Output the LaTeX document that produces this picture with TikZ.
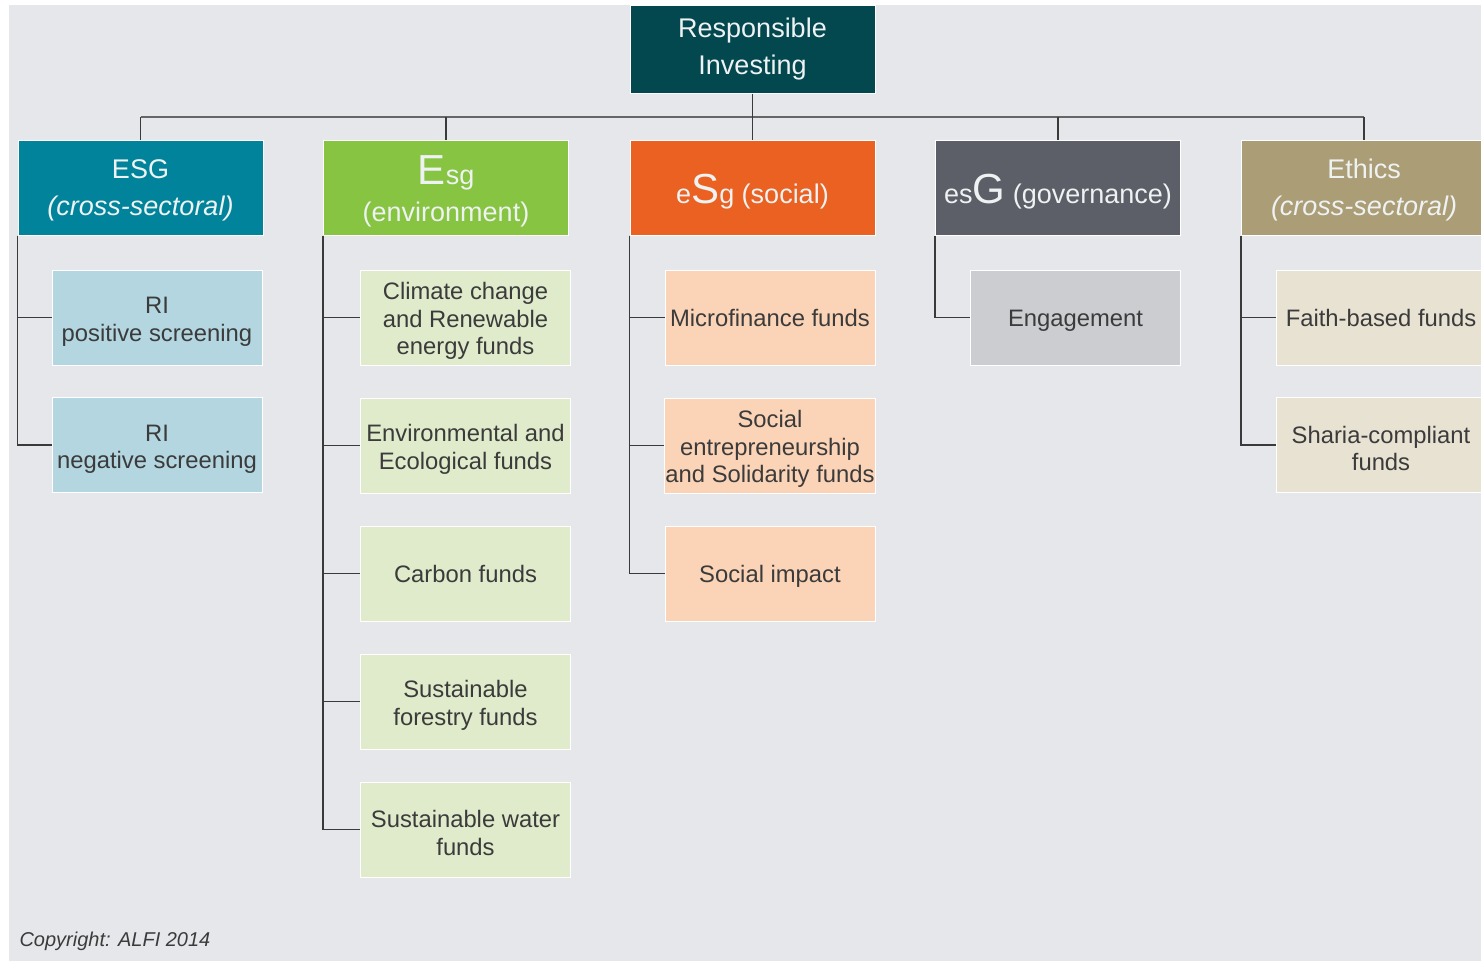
\documentclass[tikz,border=0pt]{standalone}
\usepackage{fontspec}
\setmainfont{Liberation Sans}
\usepackage{tikz}
\usetikzlibrary{positioning}

\definecolor{bggrey}{HTML}{E6E7EB}
\definecolor{rootteal}{HTML}{03474F}
\definecolor{esgteal}{HTML}{01849B}
\definecolor{envgreen}{HTML}{86C441}
\definecolor{socorange}{HTML}{EB6121}
\definecolor{govgrey}{HTML}{5C5F67}
\definecolor{ethkhaki}{HTML}{AB9D76}
\definecolor{esgpale}{HTML}{B3D6E0}
\definecolor{envpale}{HTML}{DFEBCB}
\definecolor{socpale}{HTML}{FBD3B7}
\definecolor{govpale}{HTML}{CBCDD1}
\definecolor{ethpale}{HTML}{E8E2D3}
\definecolor{headtext}{HTML}{EEF2F2}
\definecolor{fundtext}{HTML}{3B3B3B}
\definecolor{linedark}{HTML}{3A3A3A}
\definecolor{barline}{HTML}{666666}

\newcommand{\headfont}{\fontsize{27}{37}\selectfont}
\newcommand{\fundfont}{\fontsize{23.8}{27.5}\selectfont}
\newcommand{\initial}[1]{{\fontsize{42}{42}\selectfont #1}}
% taller first line, pushes a stacked label down a little
\newcommand{\lift}[1][24.5pt]{\rule{0pt}{#1}}

\tikzstyle{rootbox}=[draw=white,line width=1pt,fill=rootteal,text=headtext,minimum width=245pt,minimum height=88pt,align=center,inner sep=2pt,font=\headfont]
\tikzstyle{pillar}=[draw=white,line width=1pt,text=headtext,minimum width=245pt,minimum height=95pt,align=center,inner sep=2pt,font=\headfont]
\tikzstyle{fund}=[draw=white,line width=1pt,text=fundtext,minimum width=210pt,minimum height=95pt,align=center,inner sep=1pt,font=\fundfont]
\tikzstyle{trunk} = [draw=linedark,line width=1.9pt]
\tikzstyle{railline} = [draw=barline,line width=2.6pt]

\begin{document}
\begin{tikzpicture}[x=1pt,y=-1pt]

    % page and backdrop
    \useasboundingbox (0,0) rectangle (1481,961);
    \fill[white] (0,0) rectangle (1481,961);
    \fill[bggrey] (9,5) rectangle (1481,961);

    \node[rootbox] (ri) at (752.5,49) {Responsible\\Investing};

    % the five pillars
    \foreach \pos/ \name/ \col/ \txt in {{(140.5,187.5)/esg/esgteal/{\lift[25.5pt]ESG\\\textit{(cross-sectoral)}}},
        {(446,187.5)/env/envgreen/{\lift[37pt]\initial{E}sg\\(environment)}},
        {(752.5,187.5)/soc/socorange/{\lift[37pt]e\initial{S}g (social)}},
        {(1058,187.5)/gov/govgrey/{\lift[37pt]es\initial{G} (governance)}},
        {(1364,187.5)/eth/ethkhaki/{\lift[25.5pt]Ethics\\\textit{(cross-sectoral)}}}}
        \node[pillar,fill=\col] (\name) at \pos {\txt};

    % funds under each pillar
    \foreach \pos/ \name/ \txt in {{(157,317.5)/esgpos/{\lift RI\\positive screening}}, {(157,445)/esgneg/{\lift RI\\negative screening}}}
        \node[fund,fill=esgpale] (\name) at \pos {\txt};
    \foreach \pos/ \name/ \txt in {{(465.5,317.5)/env1/{\lift Climate change\\and Renewable\\energy funds}},
        {(465.5,445.5)/env2/{\lift Environmental and\\Ecological funds}},
        {(465.5,573.5)/env3/{Carbon funds}},
        {(465.5,701.5)/env4/{\lift Sustainable\\forestry funds}},
        {(465.5,829.5)/env5/{\lift Sustainable water\\funds}}}
        \node[fund,fill=envpale] (\name) at \pos {\txt};
    \foreach \pos/ \name/ \txt in {{(770,317.5)/soc1/{Microfinance funds}},
        {(770,445.5)/soc2/{\lift Social\\entrepreneurship\\and Solidarity funds}},
        {(770,573.5)/soc3/{\lift[23.5pt]Social impact}}}
        \node[fund,fill=socpale] (\name) at \pos {\txt};
    \node[fund,fill=govpale] (gov1) at (1075.5,317.5) {\lift[23.5pt]Engagement};
    \foreach \pos/ \name/ \txt in {{(1381,317.5)/eth1/{Faith-based funds}}, {(1381,445)/eth2/{\lift Sharia-compliant\\funds}}}
        \node[fund,fill=ethpale] (\name) at \pos {\txt};

    % root and rail
    \coordinate (rail) at (0,117);
    \draw[railline] (esg.north |- rail) -- (eth.north |- rail);
    \draw[trunk] (ri.south) -- (soc.north);
    \foreach \name in {esg,env,gov,eth}
        \draw[trunk] (\name.north |- rail) -- (\name.north);

    % pillar to fund connections
    \foreach \source/ \dest in {esg/esgpos, esg/esgneg, env/env1, env/env2, env/env3, env/env4, env/env5,
        soc/soc1, soc/soc2, soc/soc3, gov/gov1, eth/eth1, eth/eth2}
        \draw[trunk] (\source.south west) |- (\dest.west);

    \node[anchor=west,text=fundtext,font=\fontsize{20}{24}\selectfont\itshape] (copy) at (16,941) {Copyright: ALFI 2014};

\end{tikzpicture}
\end{document}
